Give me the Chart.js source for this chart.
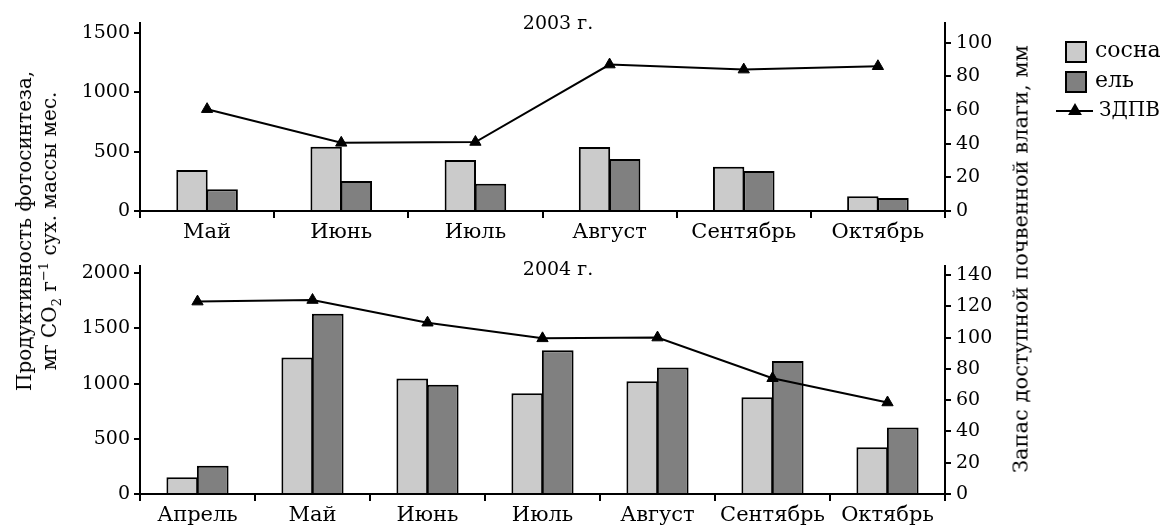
<!DOCTYPE html>
<html>
<head>
<meta charset="utf-8">
<script src="https://cdn.jsdelivr.net/npm/chart.js@4"></script>
<style>
    html, body { margin: 0; padding: 0; background: #fff; }
    #wrap { position: relative; width: 1173px; height: 531px; overflow: hidden; font-family: "DejaVu Serif", serif; color: #000; }
    .panel { position: absolute; left: 0; }
    .axis-title { position: absolute; white-space: nowrap; text-align: center; font-size: 20px; line-height: 25px;
        transform: translate(-50%, -50%) rotate(-90deg); }
    .axis-title sub, .axis-title sup { font-size: 13px; line-height: 0; }
</style>
</head>
<body>
<div id="wrap">
    <div class="panel" style="top:0"><canvas id="chart-2003" width="1173" height="250"></canvas></div>
    <div class="panel" style="top:250px"><canvas id="chart-2004" width="1173" height="281"></canvas></div>
    <div class="axis-title" style="left:37px; top:231px">Продуктивность фотосинтеза,<br>мг CO<sub>2</sub> г<sup>−1</sup> сух. массы мес.</div>
    <div class="axis-title" style="left:1021px; top:259px; font-size:21px">Запас доступной почвенной влаги, мм</div>
</div>
<script>
// 2003
var months2003 = ['Май', 'Июнь', 'Июль', 'Август', 'Сентябрь', 'Октябрь'];
var pine2003   = [345, 542, 430, 539, 373, 124];
var spruce2003 = [183, 253, 230, 438, 337, 110];
var water2003  = [60.5, 40.5, 41, 87, 84, 86];

// 2004
var months2004 = ['Апрель', 'Май', 'Июнь', 'Июль', 'Август', 'Сентябрь', 'Октябрь'];
var pine2004   = [152, 1236, 1046, 912, 1022, 876, 424];
var spruce2004 = [255, 1634, 990, 1302, 1147, 1206, 603];
var water2004  = [123, 124, 109.5, 99.5, 100, 74, 58.5];

var leftTicks2003 = [0, 500, 1000, 1500];
var rightTicks2003 = [0, 20, 40, 60, 80, 100];
var leftTicks2004 = [0, 500, 1000, 1500, 2000];
var rightTicks2004 = [0, 20, 40, 60, 80, 100, 120, 140];

var FONT = 'DejaVu Serif';
var PINE = '#cbcbcb';
var SPRUCE = '#808080';

// draws the year caption, and on the first panel the legend too
var panelDecor = {
    id: 'panelDecor',
    afterDraw: function(chart, args, opts) {
        var ctx = chart.ctx;
        ctx.save();
        ctx.fillStyle = '#000';
        ctx.font = '19px "' + FONT + '"';
        ctx.textAlign = 'center';
        ctx.textBaseline = 'middle';
        ctx.fillText(opts.caption, 558, opts.captionY);

        if (opts.legend) {
            var ds = chart.data.datasets;
            ctx.font = '22px "' + FONT + '"';
            ctx.textAlign = 'left';
            ctx.lineWidth = 2;
            ctx.strokeStyle = '#000';
            // bar entries
            [ds[1], ds[2]].forEach(function(d, i) {
                var y = 42 + i * 30;
                ctx.fillStyle = d.backgroundColor;
                ctx.fillRect(1066, y, 20, 20);
                ctx.strokeRect(1066, y, 20, 20);
                ctx.fillStyle = '#000';
                ctx.fillText(d.label, 1095, y + 9);
            });
            // line entry
            ctx.beginPath();
            ctx.moveTo(1056, 111);
            ctx.lineTo(1093, 111);
            ctx.stroke();
            Chart.helpers.drawPoint(ctx, { pointStyle: 'triangle', radius: 6, borderWidth: 1 }, 1075, 111);
            ctx.fill();
            ctx.font = '20px "' + FONT + '"';
            ctx.fillText(ds[0].label, 1099, 111);
        }
        ctx.restore();
    }
};

function fixedTicks(list) {
    return function(scale) {
        scale.ticks = list.map(function(v) { return { value: v }; });
    };
}

function plainNumber(v) {
    return String(v);
}

function buildPanel(canvasId, months, pine, spruce, water, o) {
    var axisLine = { display: true, color: '#000', width: 2 };
    var tickFont = { family: FONT, size: 19 };

    return new Chart(document.getElementById(canvasId).getContext('2d'), {
        type: 'bar',
        data: {
            labels: months,
            datasets: [
                {
                    type: 'line',
                    label: 'ЗДПВ',
                    data: water,
                    yAxisID: 'y1',
                    order: 0,
                    borderColor: '#000',
                    backgroundColor: '#000',
                    borderWidth: 2,
                    tension: 0,
                    pointStyle: 'triangle',
                    pointRadius: 6.5,
                    pointBorderWidth: 1,
                    clip: false
                },
                {
                    label: 'сосна',
                    data: pine,
                    yAxisID: 'y',
                    order: 1,
                    backgroundColor: PINE,
                    borderColor: '#000',
                    borderWidth: 2,
                    categoryPercentage: o.groupWidth,
                    barPercentage: 1.04
                },
                {
                    label: 'ель',
                    data: spruce,
                    yAxisID: 'y',
                    order: 1,
                    backgroundColor: SPRUCE,
                    borderColor: '#000',
                    borderWidth: 2,
                    categoryPercentage: o.groupWidth,
                    barPercentage: 1.04
                }
            ]
        },
        options: {
            responsive: false,
            animation: false,
            devicePixelRatio: 1,
            layout: { padding: { top: o.padTop, left: 0, right: 0, bottom: 0 } },
            plugins: {
                legend: { display: false },
                tooltip: { enabled: false },
                panelDecor: { caption: o.caption, captionY: o.captionY, legend: o.legend }
            },
            scales: {
                x: {
                    offset: true,
                    grid: { display: true, drawOnChartArea: false, drawTicks: true, tickLength: 7, color: '#000', lineWidth: 2, offset: true },
                    border: axisLine,
                    ticks: { color: '#000', font: { family: FONT, size: 21 }, padding: 2, maxRotation: 0, autoSkip: false },
                    afterFit: function(s) { s.height = o.xHeight; }
                },
                y: {
                    position: 'left',
                    min: 0,
                    max: o.leftMax,
                    afterBuildTicks: fixedTicks(o.leftTicks),
                    grid: { display: true, drawOnChartArea: false, drawTicks: true, tickLength: 6, color: '#000', lineWidth: 2 },
                    border: axisLine,
                    ticks: { color: '#000', font: tickFont, padding: 4, callback: plainNumber },
                    afterFit: function(s) { s.width = 140; }
                },
                y1: {
                    position: 'right',
                    min: 0,
                    max: o.rightMax,
                    afterBuildTicks: fixedTicks(o.rightTicks),
                    grid: { display: true, drawOnChartArea: false, drawTicks: true, tickLength: 6, color: '#000', lineWidth: 2 },
                    border: axisLine,
                    ticks: { color: '#000', font: tickFont, padding: 5, callback: plainNumber },
                    afterFit: function(s) { s.width = 228; }
                }
            }
        },
        plugins: [panelDecor]
    });
}

buildPanel('chart-2003', months2003, pine2003, spruce2003, water2003, {
    caption: '2003 г.', captionY: 24, legend: true,
    padTop: 23, xHeight: 39, groupWidth: 0.45,
    leftMax: 1584, rightMax: 111.7,
    leftTicks: leftTicks2003, rightTicks: rightTicks2003
});

buildPanel('chart-2004', months2004, pine2004, spruce2004, water2004, {
    caption: '2004 г.', captionY: 20, legend: false,
    padTop: 13, xHeight: 37, groupWidth: 0.53,
    leftMax: 2062, rightMax: 145.5,
    leftTicks: leftTicks2004, rightTicks: rightTicks2004
});
</script>
</body>
</html>
